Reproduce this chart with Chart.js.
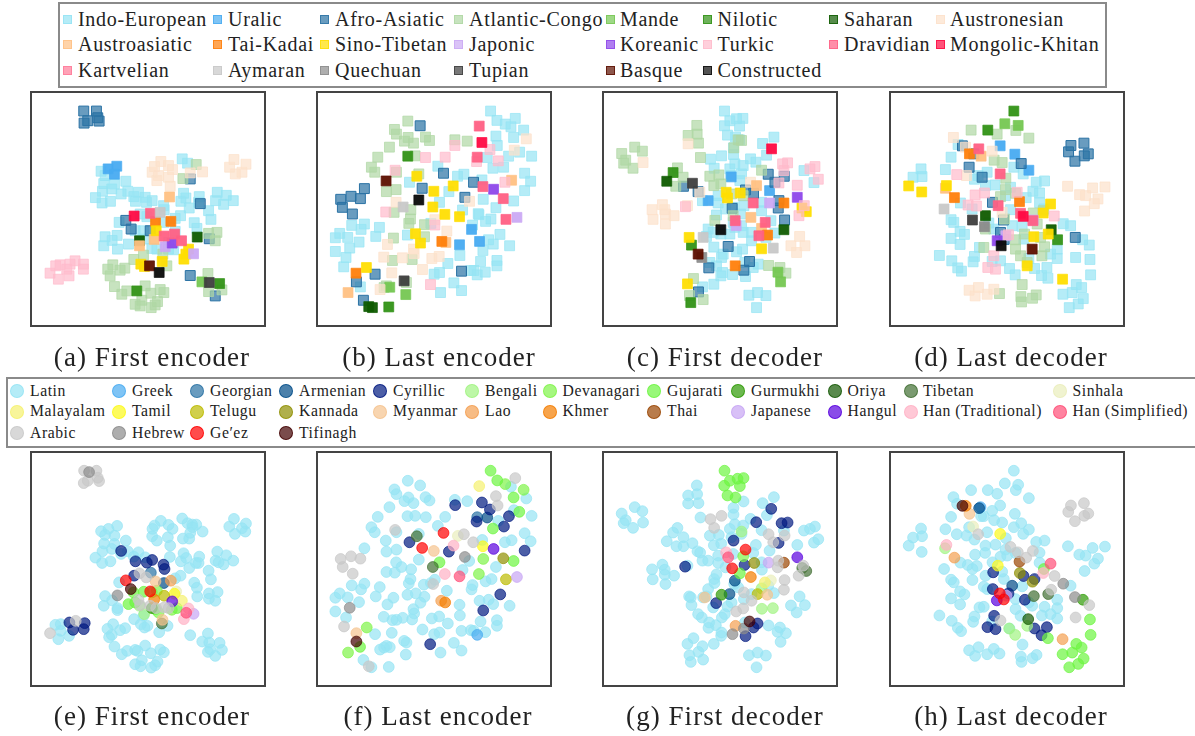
<!DOCTYPE html>
<html>
<head>
<meta charset="utf-8">
<script src="https://cdn.jsdelivr.net/npm/chart.js@4"></script>
<style>
  body { margin: 0; background: #fff; font-family: "Liberation Serif", serif; color: #222; }
  .box { position: absolute; box-sizing: border-box; border: 2px solid #8a8a8a; }
  .frame { position: absolute; box-sizing: border-box; border: 2px solid #444; pointer-events: none; }
  canvas { position: absolute; }
  .label { position: absolute; white-space: nowrap; }
  .swatch { position: absolute; box-sizing: border-box; }
  .caption { position: absolute; white-space: nowrap; font-size: 27px; letter-spacing: 1.05px; transform: translateX(-50%); }
</style>
</head>
<body>
<script>
// language families and writing systems, in legend order
const familyNames = ['Indo-European','Uralic','Afro-Asiatic','Atlantic-Congo','Mande','Nilotic','Saharan','Austronesian',
  'Austroasiatic','Tai-Kadai','Sino-Tibetan','Japonic','Koreanic','Turkic','Dravidian','Mongolic-Khitan',
  'Kartvelian','Aymaran','Quechuan','Tupian','Basque','Constructed'];
const scriptNames = ['Latin','Greek','Georgian','Armenian','Cyrillic','Bengali','Devanagari','Gujarati','Gurmukhi','Oriya','Tibetan','Sinhala',
  'Malayalam','Tamil','Telugu','Kannada','Myanmar','Lao','Khmer','Thai','Japanese','Hangul','Han (Traditional)','Han (Simplified)',
  'Arabic','Hebrew','Geʹez','Tifinagh'];
const familyColors = ['#95e4f4','#48abf1','#2a72a4','#afd7a4','#75c752','#319216','#0f5b00','#fce1cb',
  '#ffc183','#ff800b','#ffde02','#cba9f4','#8e47ea','#ffbbcc','#ff6084','#ff0a42',
  '#ff7a98','#c8c8c8','#8b8b8b','#3e3e3e','#5c0f00','#0a0a0a'];
const scriptColors = ['#95e4f4','#48abf1','#2a72a4','#004c88','#001980','#a1f481','#7ff448','#6cf540','#2d9a04','#135802','#416f33','#eaeebc',
  '#f5f16f','#fcf91a','#bcba00','#8e8e00','#f5c38e','#f49f51','#f47d00','#9a4500','#c7a5f4','#5800de','#ffb1c5','#ff4f77',
  '#c8c8c8','#8c8c8c','#ff0000','#410000'];

const panelA = {
  'Indo-European': [[486,220],[502,233],[243,257],[255,270],[283,295],[251,294],[317,287],[247,317],[275,310],[226,336],[246,352],[271,347],[303,325],[323,317],[355,320],[341,333],[346,347],[375,335],[379,350],[396,345],[490,323],[497,337],[482,347],[537,333],[507,367],[535,350],[591,320],[618,329],[586,345],[610,356],[639,345],[565,375],[572,401],[430,360],[432,372],[481,390],[465,398],[360,385],[380,393],[297,410],[522,411],[530,428],[255,453],[291,449],[276,464],[251,480],[292,490],[325,475],[345,435],[370,435],[431,410],[410,490],[445,490],[465,437],[460,492],[395,488],[445,470],[375,460]],
  'Uralic': [[290,242],[264,250],[283,266]],
  'Afro-Asiatic': [[191,77],[229,77],[233,97],[203,106],[192,113],[237,107],[510,280],[540,354],[317,404],[333,430],[567,459],[510,569],[585,630],[390,435]],
  'Atlantic-Congo': [[528,237],[488,279],[341,521],[370,508],[278,537],[263,550],[300,553],[314,547],[270,570],[440,540],[283,602],[305,625],[320,615],[375,600],[392,622],[420,611],[431,620],[345,655],[365,643],[360,660],[393,665],[405,657],[412,647],[563,563],[565,617],[605,612],[590,440],[565,443],[585,465],[428,505]],
  'Mande': [[545,588]],
  'Nilotic': [[350,615],[598,593]],
  'Saharan': [[531,454],[358,465]],
  'Austronesian': [[422,228],[403,243],[445,240],[457,252],[396,260],[415,270],[510,262],[547,259],[410,285],[445,275],[450,302],[641,222],[677,236],[628,245],[665,260],[645,265]],
  'Austroasiatic': [[448,334],[402,461],[358,480]],
  'Tai-Kadai': [[406,407],[452,407]],
  'Sino-Tibetan': [[408,435],[505,490],[497,505],[491,520],[362,535],[373,542],[426,527]],
  'Japonic': [[520,504],[435,483]],
  'Koreanic': [[456,472]],
  'Turkic': [[90,562],[107,540],[120,537],[115,580],[147,570],[150,535],[165,525],[190,535],[190,550],[140,550]],
  'Dravidian': [[391,383],[432,451],[463,445],[484,465]],
  'Mongolic-Khitan': [[342,391]],
  'Aymaran': [[420,380]],
  'Tupian': [[567,590]],
  'Basque': [[388,540]],
  'Constructed': [[417,560]]
};
const panelB = {
  'Indo-European': [[557,77],[576,105],[601,116],[631,99],[618,124],[656,134],[573,152],[626,156],[577,180],[644,200],[611,212],[680,212],[547,216],[564,248],[596,245],[399,242],[458,272],[477,266],[531,283],[659,263],[677,287],[659,315],[314,290],[432,318],[535,341],[626,346],[404,350],[573,366],[473,373],[520,384],[522,387],[542,407],[558,400],[503,418],[179,415],[141,419],[169,431],[105,443],[92,456],[129,455],[224,425],[213,452],[308,448],[378,413],[163,469],[135,487],[92,497],[124,515],[117,543],[585,446],[551,462],[565,475],[614,480],[534,494],[465,509],[527,527],[576,524],[576,540],[429,533],[541,559],[517,567],[498,554],[507,554],[404,560],[388,565],[167,603],[447,591],[470,614],[407,620]],
  'Uralic': [[500,431],[464,477],[524,467]],
  'Afro-Asiatic': [[346,121],[416,263],[506,290],[352,308],[480,335],[179,309],[139,332],[108,341],[167,339],[113,365],[143,385],[211,565],[470,556],[155,588],[176,643]],
  'Atlantic-Congo': [[309,107],[269,132],[275,146],[310,156],[299,167],[326,173],[362,155],[374,165],[450,163],[487,167],[254,185],[219,215],[331,211],[200,245],[210,260],[275,260],[342,265],[245,318],[274,312],[318,372],[268,380],[317,400],[312,413],[359,417],[266,457],[359,453],[263,524],[322,521],[245,600],[238,605],[305,590]],
  'Mande': [[255,604],[303,626]],
  'Nilotic': [[309,212],[252,663]],
  'Saharan': [[192,662],[203,665]],
  'Austronesian': [[664,160],[628,194],[494,347],[274,350],[390,402],[426,436],[248,476],[326,490],[328,503],[237,514],[293,516],[381,518],[403,512],[353,551],[261,561],[226,611]],
  'Austroasiatic': [[620,284],[423,470],[130,620]],
  'Tai-Kadai': [[411,467],[154,562]],
  'Sino-Tibetan': [[336,272],[445,301],[387,317],[384,364],[420,386],[464,393],[332,444],[347,472],[185,545]],
  'Japonic': [[636,395]],
  'Koreanic': [[566,311]],
  'Turkic': [[450,180],[555,192],[580,226],[515,228],[362,216],[421,215],[271,254],[600,290],[243,379],[377,596],[390,418]],
  'Dravidian': [[523,122],[517,215],[534,303],[595,339],[603,401]],
  'Mongolic-Khitan': [[531,171]],
  'Aymaran': [[295,364]],
  'Tupian': [[298,585]],
  'Basque': [[244,286]],
  'Constructed': [[342,343]]
};
const panelC = {
  'Indo-European': [[389,77],[405,106],[425,100],[444,99],[389,121],[434,122],[398,149],[422,155],[434,163],[537,155],[503,174],[515,209],[347,221],[380,211],[416,207],[416,187],[358,248],[420,235],[445,240],[467,220],[483,230],[405,250],[440,265],[435,285],[408,270],[627,255],[657,291],[323,345],[370,330],[370,352],[392,370],[415,365],[447,360],[500,350],[500,375],[365,388],[437,385],[415,410],[440,420],[420,425],[340,430],[405,445],[335,452],[355,440],[378,445],[445,440],[470,440],[470,465],[513,455],[540,442],[528,405],[357,484],[385,505],[443,490],[425,498],[345,530],[365,540],[380,515],[450,530],[490,535],[475,545],[378,570],[383,560],[413,566],[452,572],[357,595],[323,603],[462,628],[488,620],[513,629],[485,665]],
  'Uralic': [[409,274],[524,315],[340,345]],
  'Afro-Asiatic': [[520,266],[568,272],[540,290],[266,302],[310,318],[452,313],[476,323],[552,345],[550,367],[569,403],[400,482],[464,527],[447,553],[342,546],[311,618],[412,368]],
  'Atlantic-Congo': [[306,120],[280,150],[307,146],[311,173],[120,185],[143,197],[81,204],[93,224],[87,233],[115,248],[440,165],[430,163],[417,187],[317,216],[248,247],[265,275],[500,254],[345,272],[372,268],[357,300],[378,295],[243,302],[410,325],[445,330],[360,404],[415,390],[521,539],[555,545],[573,562],[296,578],[284,629],[325,641]],
  'Mande': [[549,559],[557,588]],
  'Nilotic': [[235,261],[290,478],[288,650]],
  'Saharan': [[216,287],[567,432]],
  'Austronesian': [[280,175],[145,231],[203,357],[172,372],[210,372],[175,401],[212,385],[238,390],[212,415],[278,360],[315,320],[467,290],[614,452],[588,480],[630,480],[605,500]],
  'Austroasiatic': [[485,300],[468,395],[500,428]],
  'Tai-Kadai': [[567,352],[518,448],[421,540]],
  'Sino-Tibetan': [[394,320],[398,337],[436,322],[621,367],[634,378],[283,455],[500,489],[278,594]],
  'Japonic': [[524,352],[424,420]],
  'Koreanic': [[607,335]],
  'Turkic': [[563,235],[578,232],[645,250],[660,243],[670,281],[552,292],[607,299],[567,255],[272,363],[612,390],[628,360]],
  'Dravidian': [[475,352],[421,405],[511,410],[492,450]],
  'Mongolic-Khitan': [[530,190]],
  'Aymaran': [[325,455],[535,487]],
  'Quechuan': [[321,515]],
  'Tupian': [[293,293]],
  'Basque': [[310,505]],
  'Constructed': [[378,432]]
};
const panelD = {
  'Indo-European': [[233,177],[212,215],[122,250],[98,275],[125,273],[195,252],[320,260],[282,281],[293,270],[315,300],[344,298],[400,245],[428,265],[467,290],[492,286],[457,317],[477,322],[437,336],[477,351],[390,305],[375,330],[490,370],[240,352],[275,370],[212,402],[220,410],[239,437],[252,446],[212,458],[239,476],[390,372],[325,412],[340,430],[395,420],[425,422],[430,460],[297,485],[548,414],[570,420],[606,462],[626,478],[530,490],[510,505],[530,518],[585,515],[628,521],[630,567],[177,509],[214,525],[232,546],[243,556],[282,512],[278,528],[335,527],[360,525],[387,548],[404,567],[462,548],[499,545],[483,569],[502,577],[587,596],[603,605],[575,620],[547,625],[608,638],[593,654],[566,665],[445,518]],
  'Uralic': [[359,181],[403,206],[445,254]],
  'Afro-Asiatic': [[246,181],[266,245],[422,234],[305,275],[336,350],[369,403],[360,440],[371,461],[571,180],[610,173],[564,199],[623,205],[611,211],[583,227],[584,455],[280,205]],
  'Atlantic-Congo': [[272,134],[350,146],[406,135],[445,158],[341,224],[365,231],[376,278],[375,312],[360,333],[405,323],[458,382],[488,375],[372,400],[470,415],[315,430],[432,445],[405,462],[480,455],[405,490],[420,510],[492,483],[484,510],[440,530],[425,596],[357,623],[467,627],[421,632],[456,637],[423,648],[310,485]],
  'Mande': [[373,115],[413,120]],
  'Nilotic': [[400,77],[322,134],[531,462]],
  'Saharan': [[512,432],[315,390]],
  'Austronesian': [[219,156],[335,197],[255,185],[258,270],[561,302],[636,307],[673,304],[597,327],[615,330],[652,340],[641,354],[612,376],[365,380],[266,613],[294,605],[284,630],[320,625],[340,610]],
  'Austroasiatic': [[302,212],[195,308]],
  'Tai-Kadai': [[267,205],[222,336],[417,348]],
  'Sino-Tibetan': [[85,301],[124,319],[198,300],[510,355],[488,382],[460,453],[503,445],[440,540],[546,580]],
  'Japonic': [[376,450],[458,403]],
  'Koreanic': [[350,465]],
  'Turkic': [[229,267],[284,328],[312,322],[263,358],[288,361],[410,320],[521,391],[340,510],[322,545],[345,550],[384,447]],
  'Dravidian': [[295,190],[359,265],[420,383],[353,360],[457,405]],
  'Mongolic-Khitan': [[428,392]],
  'Aymaran': [[191,370]],
  'Quechuan': [[312,423]],
  'Tupian': [[276,403]],
  'Basque': [[455,490]],
  'Constructed': [[362,480]]
};
const panelE = {
  'Latin': [[243,257],[265,250],[291,241],[255,268],[283,270],[252,294],[317,285],[283,295],[247,317],[275,310],[303,325],[226,336],[246,352],[271,347],[323,317],[355,320],[341,333],[375,335],[422,226],[403,240],[397,250],[445,238],[457,250],[396,272],[410,285],[443,275],[450,300],[449,334],[486,219],[502,233],[516,237],[528,237],[517,245],[510,262],[547,258],[488,279],[507,279],[641,220],[677,234],[665,248],[627,243],[644,265],[675,258],[490,323],[498,337],[482,347],[537,333],[535,352],[527,352],[507,367],[591,318],[618,329],[586,345],[595,350],[610,356],[639,345],[565,375],[572,401],[481,390],[465,398],[297,410],[522,411],[530,426],[531,452],[566,443],[592,439],[566,459],[585,465],[255,451],[276,464],[251,480],[292,487],[292,493],[106,537],[122,535],[122,555],[115,580],[147,570],[342,520],[370,510],[362,535],[373,545],[382,540],[279,535],[262,549],[300,553],[315,547],[275,567],[267,574],[283,602],[305,625],[321,615],[345,612],[352,615],[375,599],[392,622],[420,611],[431,619],[345,655],[365,643],[361,661],[393,665],[405,658],[412,647],[417,559],[442,540],[510,568],[563,563],[546,587],[567,590],[598,591],[605,612],[563,618],[570,610],[585,630]],
  'Georgian': [[392,381]],
  'Armenian': [[431,412]],
  'Cyrillic': [[303,316],[346,347],[380,351],[396,343],[430,357],[433,370],[342,390],[148,530],[194,532],[159,552],[191,550]],
  'Bengali': [[372,505],[358,480]],
  'Devanagari': [[410,435],[395,440],[415,500],[455,492]],
  'Gujarati': [[340,440],[371,438],[325,475],[470,487],[405,490],[345,470]],
  'Gurmukhi': [[395,487]],
  'Tibetan': [[425,533]],
  'Sinhala': [[468,437]],
  'Malayalam': [[485,465]],
  'Tamil': [[463,444]],
  'Telugu': [[432,450]],
  'Myanmar': [[406,407],[427,522]],
  'Lao': [[452,405]],
  'Khmer': [[402,461]],
  'Japanese': [[520,504]],
  'Hangul': [[456,467]],
  'Han (Traditional)': [[505,488],[491,520]],
  'Han (Simplified)': [[498,501]],
  'Arabic': [[192,76],[229,76],[233,97],[203,106],[191,113],[237,107],[358,383],[378,395],[167,525],[90,562],[355,462],[360,478],[408,487],[432,485],[445,487],[390,480]],
  'Hebrew': [[207,80],[292,449]],
  'Geʹez': [[317,404],[390,437]],
  'Tifinagh': [[332,430]]
};
const panelF = {
  'Latin': [[309,106],[346,120],[269,132],[275,146],[311,156],[299,167],[326,173],[362,155],[374,165],[450,163],[487,167],[254,185],[219,214],[308,212],[331,211],[363,215],[421,214],[399,241],[200,245],[210,260],[275,260],[342,265],[243,285],[179,308],[245,318],[275,312],[342,342],[274,350],[290,364],[319,371],[245,379],[270,381],[317,400],[312,413],[390,402],[378,412],[357,417],[225,424],[179,414],[141,419],[169,431],[105,443],[92,456],[129,455],[213,452],[266,456],[308,447],[333,443],[359,453],[347,471],[248,476],[163,469],[426,435],[92,497],[124,515],[237,513],[263,523],[275,522],[294,516],[322,521],[326,490],[328,503],[381,518],[403,512],[429,533],[465,509],[464,477],[353,551],[261,561],[211,565],[298,585],[305,590],[245,600],[255,604],[238,605],[226,611],[303,626],[176,642],[200,664],[252,663],[404,560],[388,565],[447,591],[470,614],[407,620],[470,555],[498,553],[507,555],[541,559],[527,527],[576,523],[576,540],[614,480],[565,475],[551,462],[524,465],[500,431],[503,418],[542,407],[560,400],[473,373],[493,346],[573,364],[600,290],[620,284],[532,283],[677,287],[659,263],[680,211],[627,194],[664,159],[618,124],[580,226]],
  'Greek': [[517,567]],
  'Georgian': [[517,215]],
  'Armenian': [[547,216]],
  'Cyrillic': [[451,179],[531,171],[555,192],[612,212],[515,228],[597,243],[314,290],[432,318],[659,315],[586,446],[535,494],[376,595]],
  'Devanagari': [[656,133],[535,340],[522,385],[601,116],[186,545],[130,620]],
  'Gujarati': [[557,76],[577,105],[626,156],[643,199],[564,249],[626,346],[404,350],[166,603]],
  'Tibetan': [[336,272],[384,364]],
  'Sinhala': [[459,271]],
  'Malayalam': [[523,122]],
  'Tamil': [[534,302]],
  'Telugu': [[603,401]],
  'Kannada': [[595,338]],
  'Myanmar': [[387,316],[155,562]],
  'Lao': [[409,465]],
  'Khmer': [[421,470]],
  'Japanese': [[636,394]],
  'Hangul': [[566,310]],
  'Han (Traditional)': [[446,300],[420,385]],
  'Han (Simplified)': [[464,392]],
  'Arabic': [[108,340],[139,332],[167,339],[114,364],[144,384],[118,542],[192,661],[271,253],[477,266],[505,290],[573,152],[578,180],[631,98],[385,415]],
  'Hebrew': [[135,486],[480,334]],
  'Geʹez': [[416,262],[352,307]],
  'Tifinagh': [[155,587]]
};
const panelG = {
  'Latin': [[306,120],[280,150],[307,146],[280,174],[311,173],[446,168],[537,155],[503,173],[120,185],[143,197],[81,204],[93,224],[87,233],[145,231],[115,247],[317,216],[416,187],[416,207],[467,220],[516,209],[248,247],[235,261],[216,287],[266,275],[293,293],[245,302],[266,302],[345,270],[372,268],[357,299],[379,294],[405,250],[420,236],[445,240],[440,265],[410,275],[500,254],[483,298],[475,322],[524,315],[308,317],[316,321],[323,345],[340,345],[370,330],[370,352],[392,365],[415,325],[500,350],[501,372],[627,255],[645,250],[660,243],[670,281],[657,291],[567,255],[607,298],[203,357],[172,371],[210,372],[174,401],[210,387],[238,390],[212,415],[278,360],[365,386],[358,400],[359,412],[340,430],[418,415],[430,425],[283,452],[288,455],[325,455],[335,452],[290,478],[355,485],[410,470],[398,482],[310,505],[321,515],[381,515],[390,505],[343,530],[341,546],[363,538],[380,560],[379,570],[357,594],[296,577],[278,594],[323,601],[311,618],[284,628],[288,648],[325,641],[462,628],[488,620],[513,629],[485,664],[521,539],[555,545],[548,558],[573,562],[557,588],[614,452],[588,479],[630,478],[605,500],[450,530],[470,445],[537,442],[520,420],[447,460]],
  'Armenian': [[420,405],[404,445]],
  'Cyrillic': [[529,190],[484,230],[560,233],[578,231],[551,292],[416,285],[449,358],[271,363],[364,472],[488,533],[476,545],[452,571]],
  'Bengali': [[440,258],[501,489],[534,487],[500,428]],
  'Devanagari': [[445,332]],
  'Gujarati': [[389,76],[405,106],[428,100],[446,98],[388,121],[435,122],[398,150],[422,156],[435,383]],
  'Gurmukhi': [[380,447]],
  'Tibetan': [[622,367],[634,376]],
  'Sinhala': [[528,404]],
  'Malayalam': [[510,410]],
  'Telugu': [[488,445]],
  'Kannada': [[478,352]],
  'Myanmar': [[517,447],[330,455]],
  'Lao': [[422,540]],
  'Khmer': [[468,394]],
  'Thai': [[567,351]],
  'Japanese': [[521,351]],
  'Hangul': [[607,335]],
  'Han (Traditional)': [[394,320]],
  'Han (Simplified)': [[400,335]],
  'Arabic': [[347,221],[380,211],[358,247],[521,266],[569,270],[535,290],[550,345],[548,365],[611,390],[569,403],[567,432],[447,440],[470,465],[445,488],[424,497],[625,360]],
  'Hebrew': [[413,565],[447,548]],
  'Geʹez': [[452,312],[412,368]],
  'Tifinagh': [[464,527]]
};
const panelH = {
  'Latin': [[400,76],[373,114],[413,118],[406,134],[322,134],[272,134],[350,145],[445,158],[219,155],[230,175],[359,180],[335,196],[403,205],[212,214],[302,212],[310,212],[341,224],[365,231],[422,233],[400,245],[445,252],[428,265],[266,245],[195,251],[122,249],[98,276],[125,272],[85,300],[124,319],[229,266],[258,270],[282,282],[320,260],[315,300],[345,297],[314,322],[284,327],[376,278],[467,289],[492,285],[477,321],[477,351],[375,312],[360,333],[380,330],[405,322],[562,302],[636,307],[673,303],[596,327],[615,330],[652,339],[641,354],[612,376],[240,351],[262,358],[276,370],[289,361],[191,370],[336,350],[365,378],[370,400],[276,403],[315,390],[212,402],[220,410],[239,437],[252,446],[212,458],[239,476],[310,423],[320,430],[425,422],[405,460],[297,485],[310,483],[420,510],[405,490],[455,480],[445,470],[492,483],[484,509],[530,462],[530,487],[510,505],[530,518],[570,420],[177,509],[214,525],[232,546],[242,556],[282,512],[278,528],[335,527],[387,548],[426,596],[266,613],[294,604],[284,630],[320,625],[340,609],[357,623],[468,627],[421,632],[456,637],[423,648]],
  'Greek': [[300,185]],
  'Armenian': [[395,420],[296,188]],
  'Cyrillic': [[338,380],[429,391],[337,430],[462,400],[384,443],[433,462],[341,510],[321,544],[345,550],[462,548],[499,544],[483,568]],
  'Bengali': [[386,548],[404,567],[440,540],[194,308]],
  'Gujarati': [[628,521],[630,567],[502,577],[587,594],[603,605],[575,620],[546,625],[609,638],[593,654],[566,664],[490,370]],
  'Gurmukhi': [[607,462]],
  'Oriya': [[443,520]],
  'Tibetan': [[460,451],[503,445]],
  'Sinhala': [[278,243]],
  'Tamil': [[359,265],[352,360]],
  'Kannada': [[418,382],[456,408]],
  'Myanmar': [[267,205]],
  'Lao': [[222,336],[546,580]],
  'Khmer': [[256,181]],
  'Thai': [[417,348]],
  'Japanese': [[378,450]],
  'Hangul': [[349,464]],
  'Han (Traditional)': [[198,298],[488,382]],
  'Han (Simplified)': [[510,354]],
  'Arabic': [[571,180],[610,173],[563,199],[623,204],[611,211],[583,227],[293,266],[390,304],[412,320],[437,336],[457,316],[522,391],[512,432],[626,478],[585,515],[360,524]],
  'Hebrew': [[548,414],[583,454]],
  'Geʹez': [[358,443],[370,461]],
  'Tifinagh': [[246,181]]
};

// layout
const familyCols = [63, 213, 320, 453.5, 605.5, 703, 829, 935.5];
const familyTextCols = [78, 228, 335, 469, 620, 717.5, 844, 950];
const familyRows = [19, 44, 70];
const scriptCols = [17, 119, 197, 286, 380, 472, 550, 653.5, 738, 835, 911, 1060];
const scriptTextCols = [30, 132, 210, 299, 393, 485, 562.5, 667, 751, 847.6, 923, 1072.6];
const scriptRows = [391, 411.5, 433];
const PANEL_SIZE = 236;
const panelLefts = [30, 316, 602, 888.5];
const panelTops = [91, 451];
const panelRanges = [[30,737],[34,741],[22,729],[26,733]];
const captionCenters = [[152,439,725,1011],[152,438,725,1011]];
const captionBaseTops = [342, 701];
const captions = ['(a) First encoder','(b) Last encoder','(c) First decoder','(d) Last decoder','(e) First encoder','(f) Last encoder','(g) First decoder','(h) Last decoder'];

function addBox(left, top, width, height) {
  const d = document.createElement('div');
  d.className = 'box';
  d.style.cssText = `left:${left}px;top:${top}px;width:${width}px;height:${height}px`;
  document.body.appendChild(d);
}
function addLegend(names, colors, cols, textCols, rows, size, font, spacing, round) {
  const n = cols.length;
  names.forEach((name, i) => {
    const y = rows[Math.floor(i / n)], col = i % n;
    const s = document.createElement('div');
    s.className = 'swatch';
    s.style.cssText = `left:${cols[col] - (round ? size / 2 : 0)}px;top:${y - size / 2}px;width:${size}px;height:${size}px;`
      + `background:${colors[i]}b3;border:1px solid ${colors[i]}cc;` + (round ? 'border-radius:50%;' : '');
    document.body.appendChild(s);
    const t = document.createElement('div');
    t.className = 'label';
    t.textContent = name;
    t.style.cssText = `left:${textCols[col]}px;top:${y - font * 0.6}px;font-size:${font}px;line-height:${font * 1.2}px;letter-spacing:${spacing}px`;
    document.body.appendChild(t);
  });
}

addBox(57.5, 2, 1049, 86);
addBox(6, 377, 1195, 71);
addLegend(familyNames, familyColors, familyCols, familyTextCols, familyRows, 9, 20, 0.7, false);
addLegend(scriptNames, scriptColors, scriptCols, scriptTextCols, scriptRows, 14, 15.7, 0.55, true);

function addPanel(index, data, names, colors, square) {
  const col = index % 4, row = Math.floor(index / 4);
  const left = panelLefts[col], top = panelTops[row];
  const canvas = document.createElement('canvas');
  canvas.width = PANEL_SIZE; canvas.height = PANEL_SIZE;
  canvas.style.left = left + 'px'; canvas.style.top = top + 'px';
  document.body.appendChild(canvas);
  const frame = document.createElement('div');
  frame.className = 'frame';
  frame.style.cssText = `left:${left}px;top:${top}px;width:${PANEL_SIZE}px;height:${PANEL_SIZE}px`;
  document.body.appendChild(frame);
  const datasets = [];
  names.forEach((name, i) => {
    if (!data[name]) return;
    const pale = i === 0 || (square && [2, 3, 7, 13].includes(i));
    const alpha = (pale || !square) ? 'b3' : 'f2';
    datasets.push({
      label: name,
      data: data[name].map(p => ({ x: p[0], y: p[1] })),
      order: -i,
      backgroundColor: colors[i] + alpha,
      borderColor: colors[i] + (i === 2 && square ? 'ff' : 'b3'),
      borderWidth: 1,
      pointStyle: square ? 'rect' : 'circle',
      pointRadius: square ? 7 : 5.4,
      pointHoverRadius: square ? 7 : 5.4
    });
  });
  new Chart(canvas.getContext('2d'), {
    type: 'scatter',
    data: { datasets },
    options: {
      responsive: false,
      animation: false,
      layout: { autoPadding: false },
      plugins: { legend: { display: false }, tooltip: { enabled: false } },
      scales: {
        x: { display: false, min: panelRanges[col][0], max: panelRanges[col][1] },
        y: { display: false, reverse: true, min: 17, max: 723 }
      }
    }
  });
  const c = document.createElement('div');
  c.className = 'caption';
  c.textContent = captions[index];
  c.style.left = captionCenters[row][col] + 'px';
  c.style.top = captionBaseTops[row] + 'px';
  document.body.appendChild(c);
}

[panelA, panelB, panelC, panelD].forEach((p, i) => addPanel(i, p, familyNames, familyColors, true));
[panelE, panelF, panelG, panelH].forEach((p, i) => addPanel(i + 4, p, scriptNames, scriptColors, false));
</script>
</body>
</html>
